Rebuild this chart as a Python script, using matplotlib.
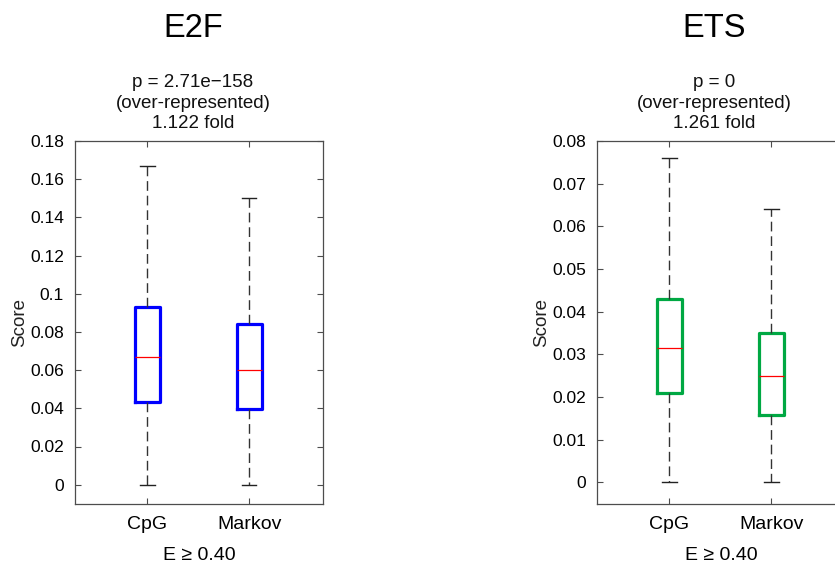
import matplotlib
matplotlib.use("Agg")
import matplotlib.pyplot as plt

plt.rcParams['font.family'] = ['Liberation Sans', 'DejaVu Sans']

categories = ['CpG', 'Markov']

# E2F panel
e2f_whishi = [0.167, 0.150]
e2f_q3 = [0.093, 0.084]
e2f_med = [0.067, 0.060]
e2f_q1 = [0.0435, 0.0395]
e2f_whislo = [0.0, 0.0]
e2f_yticks = [0, 0.02, 0.04, 0.06, 0.08, 0.1, 0.12, 0.14, 0.16, 0.18]
e2f_yticklabels = ['0', '0.02', '0.04', '0.06', '0.08', '0.1', '0.12', '0.14', '0.16', '0.18']

# ETS panel
ets_whishi = [0.076, 0.064]
ets_q3 = [0.043, 0.035]
ets_med = [0.0316, 0.025]
ets_q1 = [0.021, 0.0158]
ets_whislo = [0.0, 0.0]
ets_yticks = [0, 0.01, 0.02, 0.03, 0.04, 0.05, 0.06, 0.07, 0.08]
ets_yticklabels = ['0', '0.01', '0.02', '0.03', '0.04', '0.05', '0.06', '0.07', '0.08']

titles = ['E2F', 'ETS']
stat_lines = [['p = 2.71e\u2212158', '(over-represented)', '1.122 fold'],
              ['p = 0', '(over-represented)', '1.261 fold']]
xlabel_text = 'E \u2265 0.40'
ylabel_text = 'Score'

W, H = 835, 565
fig = plt.figure(figsize=(W / 100, H / 100), dpi=100)

axes_px = [(75, 140.9, 322.7, 503.8), (597, 140.9, 844.8, 503.8)]
box_colors = ['#0000FF', '#00A843']
panels = [
    (e2f_whishi, e2f_q3, e2f_med, e2f_q1, e2f_whislo, e2f_yticks, e2f_yticklabels, (-0.01, 0.18)),
    (ets_whishi, ets_q3, ets_med, ets_q1, ets_whislo, ets_yticks, ets_yticklabels, (-0.005, 0.08)),
]
title_x = [193, 714]
spine_col = '#4d4d4d'

for i, (whishi, q3, med, q1, whislo, yt, ytl, ylim) in enumerate(panels):
    x0, y0, x1, y1 = axes_px[i]
    ax = fig.add_axes([x0 / W, 1 - y1 / H, (x1 - x0) / W, (y1 - y0) / H])
    stats = []
    for j, name in enumerate(categories):
        stats.append(dict(label=name, med=med[j], q1=q1[j], q3=q3[j],
                          whislo=whislo[j], whishi=whishi[j], fliers=[]))
    ax.bxp(stats, positions=[1, 2], widths=0.25, capwidths=0.14,
           showfliers=False, patch_artist=False,
           boxprops=dict(color=box_colors[i], linewidth=2.3),
           medianprops=dict(color='#FF0000', linewidth=0.9),
           whiskerprops=dict(color='#333333', linewidth=1.0, linestyle=(0, (7, 3.5))),
           capprops=dict(color='#222222', linewidth=1.0))
    ax.set_xlim(0.29, 2.72)
    ax.set_ylim(*ylim)
    ax.set_yticks(yt)
    ax.set_yticklabels(ytl)
    ax.set_xticks([1, 2])
    ax.set_xticklabels(categories)
    ax.tick_params(axis='both', direction='in', length=4, width=0.8, color=spine_col,
                   top=True, right=True)
    ax.tick_params(axis='y', labelsize=12.5, pad=8)
    ax.tick_params(axis='x', labelsize=14, pad=9)
    for s in ax.spines.values():
        s.set_color(spine_col)
        s.set_linewidth(0.9)
    ax.set_xlabel(xlabel_text, fontsize=14)
    ax.xaxis.set_label_coords(0.5, -0.118)
    ax.set_ylabel(ylabel_text, fontsize=13.5, color='#222222')
    ax.yaxis.set_label_coords(-0.19, 0.5)

    fig.text(title_x[i] / W, 1 - 37 / H, titles[i], fontsize=23.5, ha='center', va='baseline')
    for k, line in enumerate(stat_lines[i]):
        yb = [87.3, 107.9, 128.3][k]
        fig.text(title_x[i] / W, 1 - yb / H, line, fontsize=13.5, ha='center', va='baseline',
                 color='#111111')

fig.savefig('out.png', dpi=100)
